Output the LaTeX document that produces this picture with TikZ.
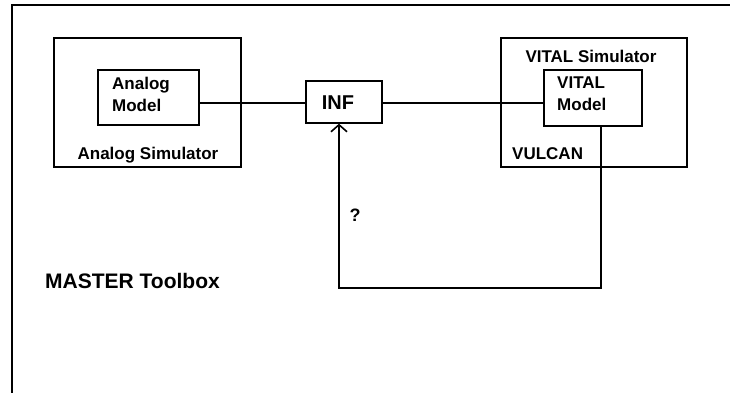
\documentclass[tikz,border=0pt]{standalone}
\usepackage{fontspec}
\setmainfont{Liberation Sans}
\usetikzlibrary{arrows.meta}
\begin{document}
\begin{tikzpicture}[x=1pt,y=-1pt,
  frame/.style={draw,line width=1.4pt},
  wire/.style={line width=1.4pt},
  lbl/.style={inner sep=0pt,font=\fontsize{17}{21}\selectfont\bfseries},
  mlbl/.style={inner sep=0pt,align=left,font=\fontsize{17}{22}\selectfont\bfseries}]
\useasboundingbox (0,0) rectangle (730,392);
% outer toolbox (only top and left edges visible)
\draw[wire] (12,400) -- (12,5) -- (740,5);
\node[lbl,font=\fontsize{21}{25}\selectfont\bfseries,anchor=base west] (master) at (45,288) {MASTER Toolbox};
% analog side
\draw[frame] (54,38) rectangle (241,167);
\node[lbl,anchor=base] (asimlbl) at (148,159) {Analog Simulator};
\node[frame,minimum width=101pt,minimum height=55pt,inner sep=0pt] (am) at (148.5,97.5) {};
\node[mlbl,anchor=north west] (amtxt) at (112,77) {Analog\\Model};
% INF
\node[frame,minimum width=76pt,minimum height=42pt,inner sep=0pt] (inf) at (344,102) {};
\node[lbl,font=\fontsize{20}{24}\selectfont\bfseries] (inftxt) at (338,103) {INF};
% VITAL side
\draw[frame] (501,38) rectangle (687,167);
\node[lbl,anchor=base] (vsimlbl) at (591,62) {VITAL Simulator};
\node[lbl,anchor=base west] (vulcan) at (512,159) {VULCAN};
\node[frame,minimum width=98pt,minimum height=56pt,inner sep=0pt] (vm) at (593,98) {};
\node[mlbl,anchor=north west] (vmtxt) at (557,77) {VITAL\\Model};
% connections
\draw[wire] (am.east |- 0,103) -- (inf.west |- 0,103);
\draw[wire] (inf.east |- 0,103) -- (vm.west |- 0,103);
\coordinate (c1) at (601,288);
\coordinate (c2) at (339,288);
\draw[wire,-{Straight Barb[length=7pt,width=16pt,line width=1.6pt]}] (vm.south -| c1) -- (c1) -- (c2) -- (inf.south -| c2);
\node[lbl,font=\fontsize{18}{22}\selectfont\bfseries] (q) at (355,215) {?};
\end{tikzpicture}
\end{document}
